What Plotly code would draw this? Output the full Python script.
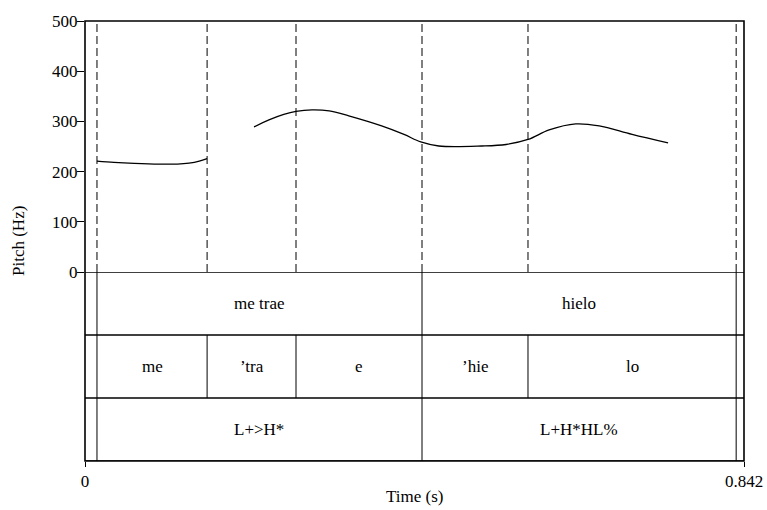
import plotly.graph_objects as go

# ---- data ----
t_max = 0.842
pitch_seg1_t = [0.0153, 0.037, 0.063, 0.095, 0.118, 0.133, 0.146, 0.156]
pitch_seg1_hz = [221, 218.5, 216.5, 215, 215, 217, 221, 226]
pitch_seg2_t = [0.216, 0.235, 0.254, 0.2696, 0.290, 0.312, 0.337, 0.379, 0.4076, 0.429,
                0.452, 0.507, 0.538, 0.566, 0.593, 0.627, 0.657, 0.699, 0.745]
pitch_seg2_hz = [289, 303, 314, 320, 323, 321, 311, 291, 274, 259,
                 251, 251, 254, 264, 283, 295, 291, 274, 257]

word_bounds = [0.0153, 0.4306, 0.832]
word_labels = ["me trae", "hielo"]
syll_bounds = [0.0153, 0.156, 0.2696, 0.4306, 0.566, 0.832]
syll_labels = ["me", "\u2019tra", "e", "\u2019hie", "lo"]
tone_bounds = [0.0153, 0.4306, 0.832]
tone_labels = ["L+>H*", "L+H*HL%"]
pitch_ticks = [0, 100, 200, 300, 400, 500]

FONT = "Liberation Serif, Times New Roman, DejaVu Serif, serif"
FS = 17
tiers = [(word_bounds, word_labels), (syll_bounds, syll_labels), (tone_bounds, tone_labels)]
split = 189 / 440

fig = go.Figure()
for tt, hz in [(pitch_seg1_t, pitch_seg1_hz), (pitch_seg2_t, pitch_seg2_hz)]:
    fig.add_trace(go.Scatter(x=tt, y=hz, mode="lines", line=dict(color="black", width=1.3, shape="spline"),
                             xaxis="x", yaxis="y", hoverinfo="skip", showlegend=False))

shapes = []
all_b = sorted(set(word_bounds + syll_bounds + tone_bounds))
for b in all_b:
    shapes.append(dict(type="line", xref="x", yref="y", x0=b, x1=b, y0=0, y1=500,
                       line=dict(color="black", width=1, dash="8px,4px")))
for i, (bounds, labels) in enumerate(tiers):
    for b in bounds:
        shapes.append(dict(type="line", xref="x", yref="y2", x0=b, x1=b, y0=i, y1=i + 1,
                           line=dict(color="black", width=1)))
for i in range(4):
    shapes.append(dict(type="line", xref="paper", yref="y2", x0=0, x1=1, y0=i, y1=i,
                       line=dict(color="black", width=1.6)))
shapes.append(dict(type="rect", xref="paper", yref="paper", x0=0, x1=1, y0=0, y1=1,
                   line=dict(color="black", width=1.6)))

annotations = []
for i, (bounds, labels) in enumerate(tiers):
    for j, lab in enumerate(labels):
        annotations.append(dict(x=(bounds[j] + bounds[j + 1]) / 2, y=i + 0.5, xref="x", yref="y2",
                                text=lab, showarrow=False, font=dict(family=FONT, size=FS, color="black")))
annotations.append(dict(x=-67 / 659, y=0.5, xref="paper", yref="paper", text="Pitch (Hz)",
                        textangle=-90, showarrow=False, xanchor="center", yanchor="middle",
                        font=dict(family=FONT, size=FS, color="black")))
annotations.append(dict(x=0.5, y=-35 / 440, xref="paper", yref="paper", text="Time (s)",
                        showarrow=False, xanchor="center", yanchor="middle",
                        font=dict(family=FONT, size=FS, color="black")))

fig.update_layout(
    width=767, height=510,
    margin=dict(l=85, r=23, t=21, b=49, autoexpand=False),
    paper_bgcolor="white", plot_bgcolor="white",
    font=dict(family=FONT, size=FS, color="black"),
    xaxis=dict(domain=[0, 1], range=[0, t_max], anchor="y2", showgrid=False, zeroline=False,
               showline=False, ticks="outside", ticklen=5, tickwidth=1, tickcolor="black",
               tickvals=[0, t_max], ticktext=["0", "0.842"], tickfont=dict(family=FONT, size=FS),
               ticklabeloverflow="allow", automargin=False),
    yaxis=dict(domain=[split, 1], range=[0, 500], anchor="x", showgrid=False, zeroline=False,
               showline=False, ticks="outside", ticklen=7, tickwidth=1, tickcolor="black",
               tickvals=pitch_ticks, tickfont=dict(family=FONT, size=FS), automargin=False,
               ticklabelstandoff=-4),
    yaxis2=dict(domain=[0, split], range=[3, 0], anchor="x", visible=False),
    shapes=shapes, annotations=annotations, showlegend=False,
)
fig.write_html("out.html")
